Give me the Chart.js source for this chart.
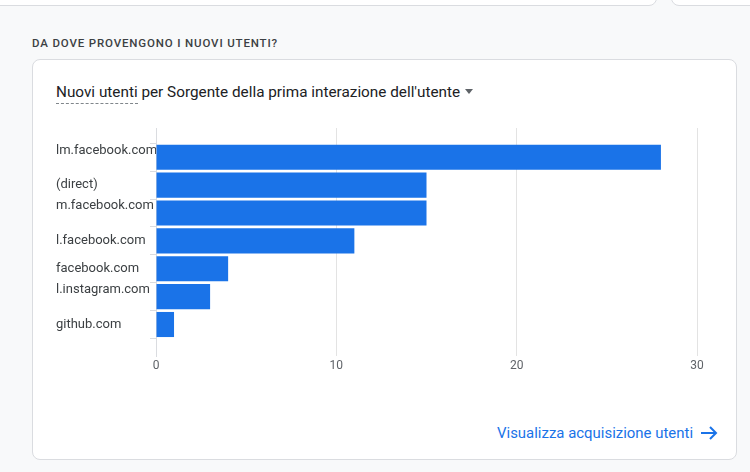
<!DOCTYPE html>
<html>
<head>
<meta charset="utf-8">
<script src="https://cdn.jsdelivr.net/npm/chart.js@4.4.1/dist/chart.umd.min.js"></script>
<style>
  html,body{margin:0;padding:0;width:750px;height:472px;overflow:hidden;background:#f8f9fa;font-family:Roboto,"Noto Sans",Arial,sans-serif;}
  .topcard{position:absolute;background:#fff;border:1px solid #dadce0;border-radius:8px;}
  .card{position:absolute;left:32px;top:59px;width:703px;height:399px;background:#fff;border:1px solid #dadce0;border-radius:8px;}
  .heading{position:absolute;left:32px;top:36px;font-size:11.5px;font-weight:500;letter-spacing:0.85px;color:#3c4043;white-space:nowrap;}
  .title{position:absolute;left:56px;top:83px;font-size:15.3px;color:#202124;white-space:nowrap;}
  .title .u{border-bottom:1px dashed #80868b;padding-bottom:2px;}
  .title .tri{display:inline-block;width:0;height:0;border-left:4.5px solid transparent;border-right:4.5px solid transparent;border-top:5px solid #5f6368;vertical-align:middle;margin-left:5px;margin-top:-3px;}
  .link{position:absolute;left:497px;top:424px;font-size:14.95px;color:#1a73e8;white-space:nowrap;}
  .link svg{vertical-align:middle;margin-left:7px;margin-top:-3px;}
  #c{position:absolute;left:0;top:0;}
</style>
</head>
<body>
<div class="topcard" style="left:-10px;top:-20px;width:665px;height:24px;"></div>
<div class="topcard" style="left:671px;top:-20px;width:100px;height:24px;"></div>
<div class="heading">DA DOVE PROVENGONO I NUOVI UTENTI?</div>
<div class="card"></div>
<div class="title"><span class="u">Nuovi utenti</span> per Sorgente della prima interazione dell'utente<span class="tri"></span></div>
<div class="link">Visualizza acquisizione utenti<svg width="18" height="14" viewBox="0 0 18 14"><path d="M1 7 H16 M10 1 L16 7 L10 13" stroke="#1a73e8" stroke-width="2" fill="none"/></svg></div>
<canvas id="c" width="750" height="472"></canvas>
<script>
const categories = ["lm.facebook.com", "(direct)", "m.facebook.com", "l.facebook.com", "facebook.com", "l.instagram.com", "github.com"];
const newUsers = [28, 15, 15, 11, 4, 3, 1];
const xTicks = [0, 10, 20, 30];

// labels drawn slightly above their bar in the reference
const raisedLabels = new Set([0, 2, 5]);

const points = newUsers.map((v, i) => ({ x: v, y: i }));

new Chart(document.getElementById('c'), {
  type: 'bar',
  data: {
    datasets: [{
      data: points,
      backgroundColor: '#1a73e8',
      borderWidth: 0,
      barPercentage: 0.9,
      categoryPercentage: 1.0
    }]
  },
  options: {
    indexAxis: 'y',
    responsive: false,
    animation: false,
    layout: { padding: { left: 56, top: 128, right: 53, bottom: 96 } },
    plugins: { legend: { display: false }, tooltip: { enabled: false } },
    scales: {
      x: {
        type: 'linear',
        min: xTicks[0],
        max: xTicks[xTicks.length - 1],
        afterBuildTicks: s => { s.ticks = xTicks.map(v => ({ value: v })); },
        afterFit: s => { s.height = 20; },
        grid: { color: '#e3e3e3', drawTicks: false },
        border: { display: false },
        ticks: { padding: 3, color: '#5f6368', font: { family: 'Roboto', size: 12 } }
      },
      y: {
        type: 'linear',
        offset: false,
        min: -1.05,
        max: 7.13,
        reverse: true,
        afterBuildTicks: s => { s.ticks = categories.map((c, i) => ({ value: i })); },
        afterFit: s => { s.width = 100; },
        grid: { drawOnChartArea: false, tickLength: 6, color: '#dadce0' },
        border: { display: true, color: '#dadce0' },
        ticks: {
          crossAlign: 'far',
          padding: 4,
          color: '#3c4043',
          font: { family: 'Roboto', size: 13, lineHeight: 1.05 },
          callback: (v) => {
            const name = categories[v];
            if (name === undefined) return '';
            return raisedLabels.has(v) ? [name, ''] : name;
          }
        }
      }
    }
  }
});
</script>
</body>
</html>
